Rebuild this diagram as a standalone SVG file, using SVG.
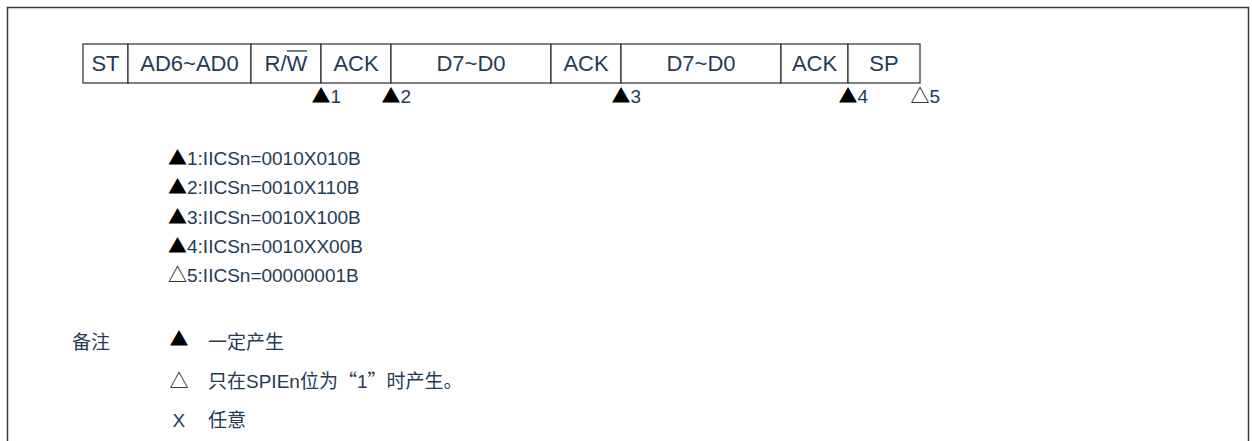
<svg xmlns="http://www.w3.org/2000/svg" width="1252" height="441" viewBox="0 0 1252 441">
<style>
.frame{fill:none;stroke:#3a3a3a;stroke-width:1.5}
.box{fill:#fff;stroke:#2b2b2b;stroke-width:1.2}
.bt{font-family:"Liberation Sans",Arial,sans-serif;font-size:22px;fill:#243b55;text-anchor:middle}
.t{font-family:"Liberation Sans",Arial,"Noto Sans CJK SC",sans-serif;font-size:19px;fill:#243b55}
.cjk{font-family:"Noto Sans CJK SC",sans-serif;font-size:19px;fill:#243b55}
.tri{font-family:"Noto Sans CJK SC",sans-serif;fill:#000}
</style>
<rect class="frame" x="7.5" y="7.5" width="1241" height="460"/>
<g id="frame-boxes">
  <g id="n-st"><rect class="box" x="83" y="44" width="45" height="39"/><text class="bt" x="105.5" y="71">ST</text></g>
  <g id="n-ad"><rect class="box" x="128" y="44" width="123" height="39"/><text class="bt" x="189.5" y="71">AD6~AD0</text></g>
  <g id="n-rw"><rect class="box" x="251" y="44" width="70" height="39"/><text class="bt" x="286" y="71">R/W</text><line x1="287" y1="51" x2="307" y2="51" stroke="#243b55" stroke-width="1.3"/></g>
  <g id="n-ack1"><rect class="box" x="321" y="44" width="70" height="39"/><text class="bt" x="356" y="71">ACK</text></g>
  <g id="n-d1"><rect class="box" x="391" y="44" width="160" height="39"/><text class="bt" x="471" y="71">D7~D0</text></g>
  <g id="n-ack2"><rect class="box" x="551" y="44" width="70" height="39"/><text class="bt" x="586" y="71">ACK</text></g>
  <g id="n-d2"><rect class="box" x="621" y="44" width="160" height="39"/><text class="bt" x="701" y="71">D7~D0</text></g>
  <g id="n-ack3"><rect class="box" x="781" y="44" width="67" height="39"/><text class="bt" x="814.5" y="71">ACK</text></g>
  <g id="n-sp"><rect class="box" x="848" y="44" width="72" height="39"/><text class="bt" x="884" y="71">SP</text></g>
</g>
<g id="markers">
  <text class="t" x="311.5" y="103"><tspan class="tri">▲</tspan>1</text>
  <text class="t" x="381.5" y="103"><tspan class="tri">▲</tspan>2</text>
  <text class="t" x="611.5" y="103"><tspan class="tri">▲</tspan>3</text>
  <text class="t" x="838.5" y="103"><tspan class="tri">▲</tspan>4</text>
  <text class="t" x="910.5" y="103"><tspan class="tri">△</tspan>5</text>
</g>
<g id="status-list">
  <text class="t" x="168" y="165"><tspan class="tri">▲</tspan>1:IICSn=0010X010B</text>
  <text class="t" x="168" y="194"><tspan class="tri">▲</tspan>2:IICSn=0010X110B</text>
  <text class="t" x="168" y="223.5"><tspan class="tri">▲</tspan>3:IICSn=0010X100B</text>
  <text class="t" x="168" y="253"><tspan class="tri">▲</tspan>4:IICSn=0010XX00B</text>
  <text class="t" x="168" y="282"><tspan class="tri">△</tspan>5:IICSn=00000001B</text>
</g>
<g id="legend">
  <text class="cjk" x="72" y="348.5">备注</text>
  <text class="tri" x="169.5" y="346" font-size="19">▲</text>
  <text class="cjk" x="208" y="348.5">一定产生</text>
  <text class="tri" x="169.5" y="388" font-size="19">△</text>
  <text class="cjk" x="208" y="388">只在<tspan font-family="Liberation Sans,Arial,sans-serif">SPIEn</tspan>位为“<tspan font-family="Liberation Sans,Arial,sans-serif">1</tspan>”时产生。</text>
  <text class="t" x="172.5" y="427">X</text>
  <text class="cjk" x="208" y="426.5">任意</text>
</g>
</svg>
